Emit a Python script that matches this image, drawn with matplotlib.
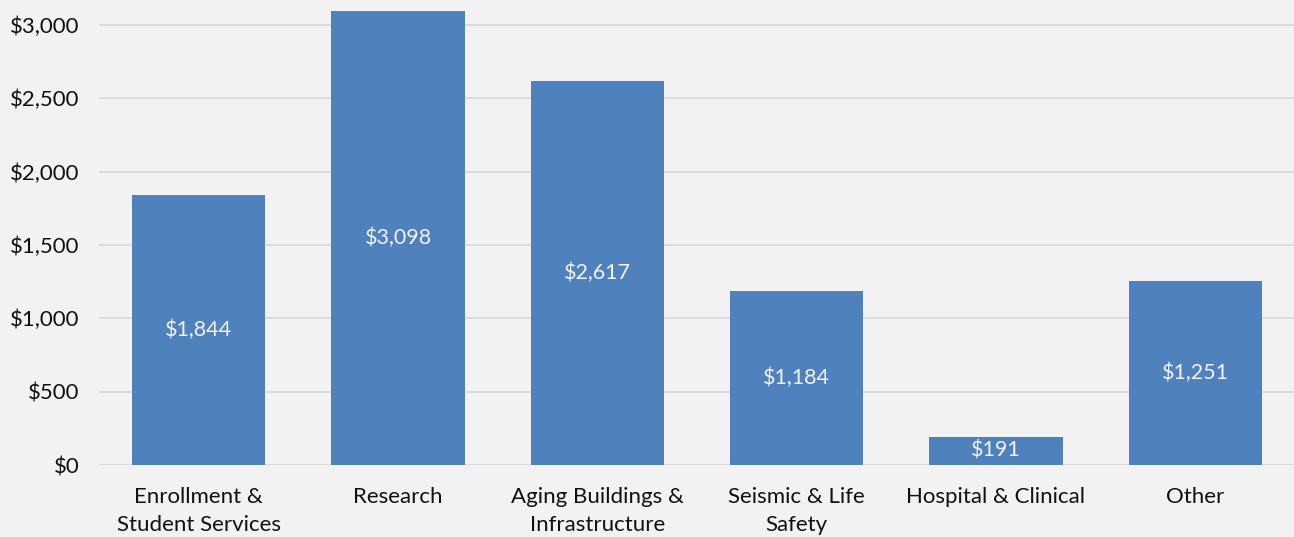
import matplotlib.pyplot as plt

plt.rcParams['font.family'] = ['Lato', 'DejaVu Sans']

categories = ['Enrollment &\nStudent Services', 'Research', 'Aging Buildings &\nInfrastructure',
              'Seismic & Life\nSafety', 'Hospital & Clinical', 'Other']
values = [1844, 3098, 2617, 1184, 191, 1251]
yticks = [0, 500, 1000, 1500, 2000, 2500, 3000]

bg = '#F2F2F2'
fig = plt.figure(figsize=(12.94, 5.37), dpi=100, facecolor=bg)
ax = fig.add_axes([99 / 1294, 1 - 465 / 537, 1196 / 1294, 465 / 537])
ax.set_facecolor(bg)

x = range(len(categories))
bars = ax.bar(x, values, width=0.67, color='#4F81BD', zorder=2)
for b, v in zip(bars, values):
    ax.text(b.get_x() + b.get_width() / 2, v / 2, '${:,}'.format(v),
            ha='center', va='center', color='#F2F2F2', fontsize=15.5, zorder=3)

ax.set_xlim(-0.5, len(categories) - 0.5)
ax.set_ylim(0, 3170)
ax.set_yticks(yticks)
ax.set_yticklabels(['${:,}'.format(t) for t in yticks])
ax.set_xticks(list(x))
ax.set_xticklabels(categories, linespacing=1.5)
ax.tick_params(axis='both', length=0, labelsize=16, colors='#111111')
ax.tick_params(axis='y', pad=14)
ax.tick_params(axis='x', pad=16)
for lab in ax.get_xticklabels():
    lab.set_va('top')

ax.grid(axis='y', color='#D9D9D9', linewidth=1.3, zorder=0)
for s in ax.spines.values():
    s.set_visible(False)

fig.savefig('out.png', dpi=100, facecolor=bg)
